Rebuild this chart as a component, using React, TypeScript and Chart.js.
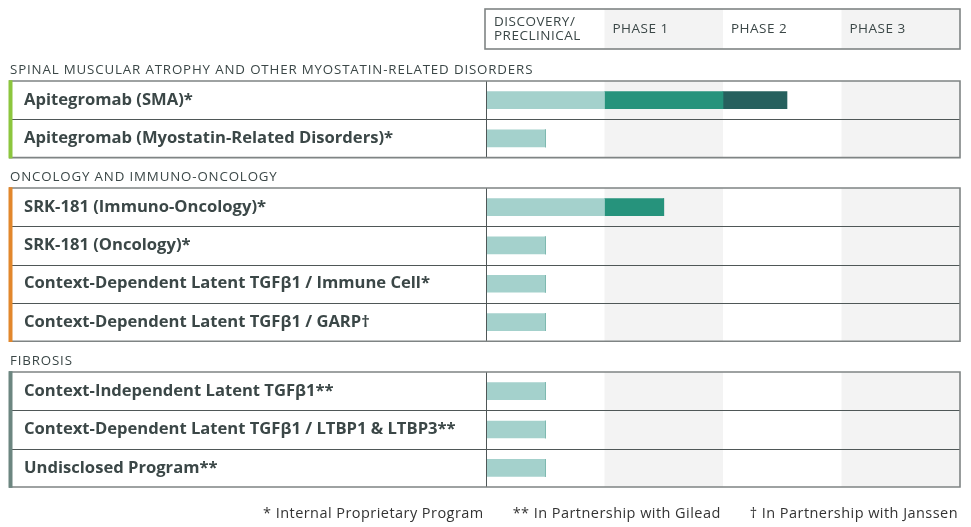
import React, { useEffect, useRef } from "react";
import { Chart, registerables } from "chart.js";

Chart.register(...registerables);

// ---------- data ----------
const PHASES = ["DISCOVERY/\nPRECLINICAL", "PHASE 1", "PHASE 2", "PHASE 3"];
const STAGE_NAMES = ["Discovery/Preclinical", "Phase 1", "Phase 2"];

const GROUP1_TITLE = "SPINAL MUSCULAR ATROPHY AND OTHER MYOSTATIN-RELATED DISORDERS";
const GROUP1_PROGRAMS = ["Apitegromab (SMA)*", "Apitegromab (Myostatin-Related Disorders)*"];
const GROUP1_DISCOVERY = [1, 0.5];
const GROUP1_PHASE1 = [1, 0];
const GROUP1_PHASE2 = [0.54, 0];

const GROUP2_TITLE = "ONCOLOGY AND IMMUNO-ONCOLOGY";
const GROUP2_PROGRAMS = [
  "SRK-181 (Immuno-Oncology)*",
  "SRK-181 (Oncology)*",
  "Context-Dependent Latent TGFβ1 / Immune Cell*",
  "Context-Dependent Latent TGFβ1 / GARP†",
];
const GROUP2_DISCOVERY = [1, 0.5, 0.5, 0.5];
const GROUP2_PHASE1 = [0.5, 0, 0, 0];
const GROUP2_PHASE2 = [0, 0, 0, 0];

const GROUP3_TITLE = "FIBROSIS";
const GROUP3_PROGRAMS = [
  "Context-Independent Latent TGFβ1**",
  "Context-Dependent Latent TGFβ1 / LTBP1 & LTBP3**",
  "Undisclosed Program**",
];
const GROUP3_DISCOVERY = [0.5, 0.5, 0.5];
const GROUP3_PHASE1 = [0, 0, 0];
const GROUP3_PHASE2 = [0, 0, 0];

const FOOTNOTES = [
  "* Internal Proprietary Program",
  "** In Partnership with Gilead",
  "† In Partnership with Janssen",
];

// ---------- style ----------
const FONT = "'Open Sans', 'DejaVu Sans', sans-serif";
const TEXT = "#3b4747";
const STAGE_COLORS = ["#a4d1cc", "#26937c", "#26605e"];
const SHADE = "#f3f3f3";
const BORDER = "#7f8484";
const RULE = "#4f5757";
const W = 971;

type GroupProps = {
  title: string;
  programs: string[];
  series: number[][];
  stripe: string;
  top: number;
  height: number;
  padTop: number;
  padBottom: number;
  header?: boolean;
  footnotes?: boolean;
};

function GroupChart(p: GroupProps) {
  const ref = useRef<HTMLCanvasElement | null>(null);
  useEffect(() => {
    if (!ref.current) return;
    const decor = {
      id: "decor",
      beforeDatasetsDraw(chart: any) {
        const { ctx, chartArea: a, scales } = chart;
        const x = scales.x;
        ctx.save();
        ctx.fillStyle = SHADE;
        for (const i of [1, 3]) {
          const x0 = x.getPixelForValue(i);
          const x1 = x.getPixelForValue(i + 1);
          ctx.fillRect(x0, a.top, x1 - x0, a.bottom - a.top);
          if (p.header) ctx.fillRect(x0, 9, x1 - x0, 40);
        }
        ctx.restore();
      },
      afterDraw(chart: any) {
        const { ctx, chartArea: a, scales } = chart;
        const x = scales.x;
        const n = p.programs.length;
        const rowH = (a.bottom - a.top) / n;
        ctx.save();
        // group title
        ctx.font = `400 13.3px ${FONT}`;
        (ctx as any).letterSpacing = "0.85px";
        ctx.fillStyle = TEXT;
        ctx.textBaseline = "middle";
        ctx.textAlign = "left";
        ctx.fillText(p.title, 10, a.top - 11);
        (ctx as any).letterSpacing = "0px";
        // row rules
        ctx.strokeStyle = RULE;
        ctx.lineWidth = 1;
        for (let i = 1; i < n; i++) {
          const y = Math.round(a.top + i * rowH) + 0.5;
          ctx.beginPath();
          ctx.moveTo(12, y);
          ctx.lineTo(a.right, y);
          ctx.stroke();
        }
        // divider
        ctx.beginPath();
        ctx.moveTo(a.left + 0.5, a.top);
        ctx.lineTo(a.left + 0.5, a.bottom);
        ctx.stroke();
        // box borders
        ctx.strokeStyle = BORDER;
        ctx.lineWidth = 1.6;
        ctx.beginPath();
        ctx.moveTo(9, a.top);
        ctx.lineTo(a.right, a.top);
        ctx.lineTo(a.right, a.bottom);
        ctx.lineTo(9, a.bottom);
        ctx.stroke();
        // stripe
        ctx.fillStyle = p.stripe;
        ctx.fillRect(8.5, a.top - 0.8, 4, a.bottom - a.top + 1.6);

        if (p.header) {
          const hx0 = x.getPixelForValue(0) - 1;
          const hx1 = x.getPixelForValue(4);
          ctx.strokeStyle = BORDER;
          ctx.lineWidth = 1.6;
          ctx.strokeRect(hx0, 9, hx1 - hx0, 40);
          ctx.font = `400 13.5px ${FONT}`;
          (ctx as any).letterSpacing = "0.5px";
          ctx.fillStyle = TEXT;
          PHASES.forEach((ph, i) => {
            const lines = ph.split("\n");
            const px = x.getPixelForValue(i) + 8;
            lines.forEach((ln, j) => {
              const y = 29 + (j - (lines.length - 1) / 2) * 14.5;
              ctx.fillText(ln, px, y);
            });
          });
          (ctx as any).letterSpacing = "0px";
        }
        if (p.footnotes) {
          ctx.font = `400 14.5px ${FONT}`;
          (ctx as any).letterSpacing = "0.45px";
          ctx.fillStyle = "#333";
          ctx.textAlign = "right";
          let xr = 958;
          const fy = 514 - p.top;
          for (let i = FOOTNOTES.length - 1; i >= 0; i--) {
            ctx.fillText(FOOTNOTES[i], xr, fy);
            xr -= ctx.measureText(FOOTNOTES[i]).width + 29;
          }
          (ctx as any).letterSpacing = "0px";
        }
        ctx.restore();
      },
    };
    const chart = new Chart(ref.current, {
      type: "bar",
      data: {
        labels: p.programs,
        datasets: p.series.map((s, i) => ({
          label: STAGE_NAMES[i],
          data: s,
          backgroundColor: STAGE_COLORS[i],
          borderWidth: 0,
          barThickness: 17,
        })),
      },
      options: {
        indexAxis: "y",
        responsive: false,
        maintainAspectRatio: false,
        animation: false,
        layout: { padding: { left: 24, right: 11, top: p.padTop, bottom: p.padBottom } },
        plugins: { legend: { display: false }, tooltip: { enabled: false } },
        scales: {
          x: { type: "linear", min: 0, max: 4, stacked: true, display: false },
          y: {
            stacked: true,
            grid: { display: false },
            border: { display: false },
            ticks: {
              crossAlign: "far",
              padding: 0,
              color: TEXT,
              font: { family: FONT, size: 16.6, weight: "bold" },
            },
            afterFit: (s: any) => {
              s.width = 462;
            },
          },
        },
      },
      plugins: [decor],
    } as any);
    return () => chart.destroy();
  }, []);
  return (
    <canvas
      ref={ref}
      width={W}
      height={p.height}
      style={{ position: "absolute", left: 0, top: p.top, width: W, height: p.height }}
    />
  );
}

export default function App() {
  return (
    <div style={{ position: "absolute", left: 0, top: 0, width: W, height: 527, background: "#fff" }}>
      <GroupChart
        title={GROUP1_TITLE}
        programs={GROUP1_PROGRAMS}
        series={[GROUP1_DISCOVERY, GROUP1_PHASE1, GROUP1_PHASE2]}
        stripe="#8cc63e"
        top={0}
        height={180}
        padTop={81}
        padBottom={22.4}
        header
      />
      <GroupChart
        title={GROUP2_TITLE}
        programs={GROUP2_PROGRAMS}
        series={[GROUP2_DISCOVERY, GROUP2_PHASE1, GROUP2_PHASE2]}
        stripe="#e2872c"
        top={160}
        height={204}
        padTop={28}
        padBottom={22.8}
      />
      <GroupChart
        title={GROUP3_TITLE}
        programs={GROUP3_PROGRAMS}
        series={[GROUP3_DISCOVERY, GROUP3_PHASE1, GROUP3_PHASE2]}
        stripe="#6c8680"
        top={344}
        height={183}
        padTop={28}
        padBottom={40}
        footnotes
      />
    </div>
  );
}
